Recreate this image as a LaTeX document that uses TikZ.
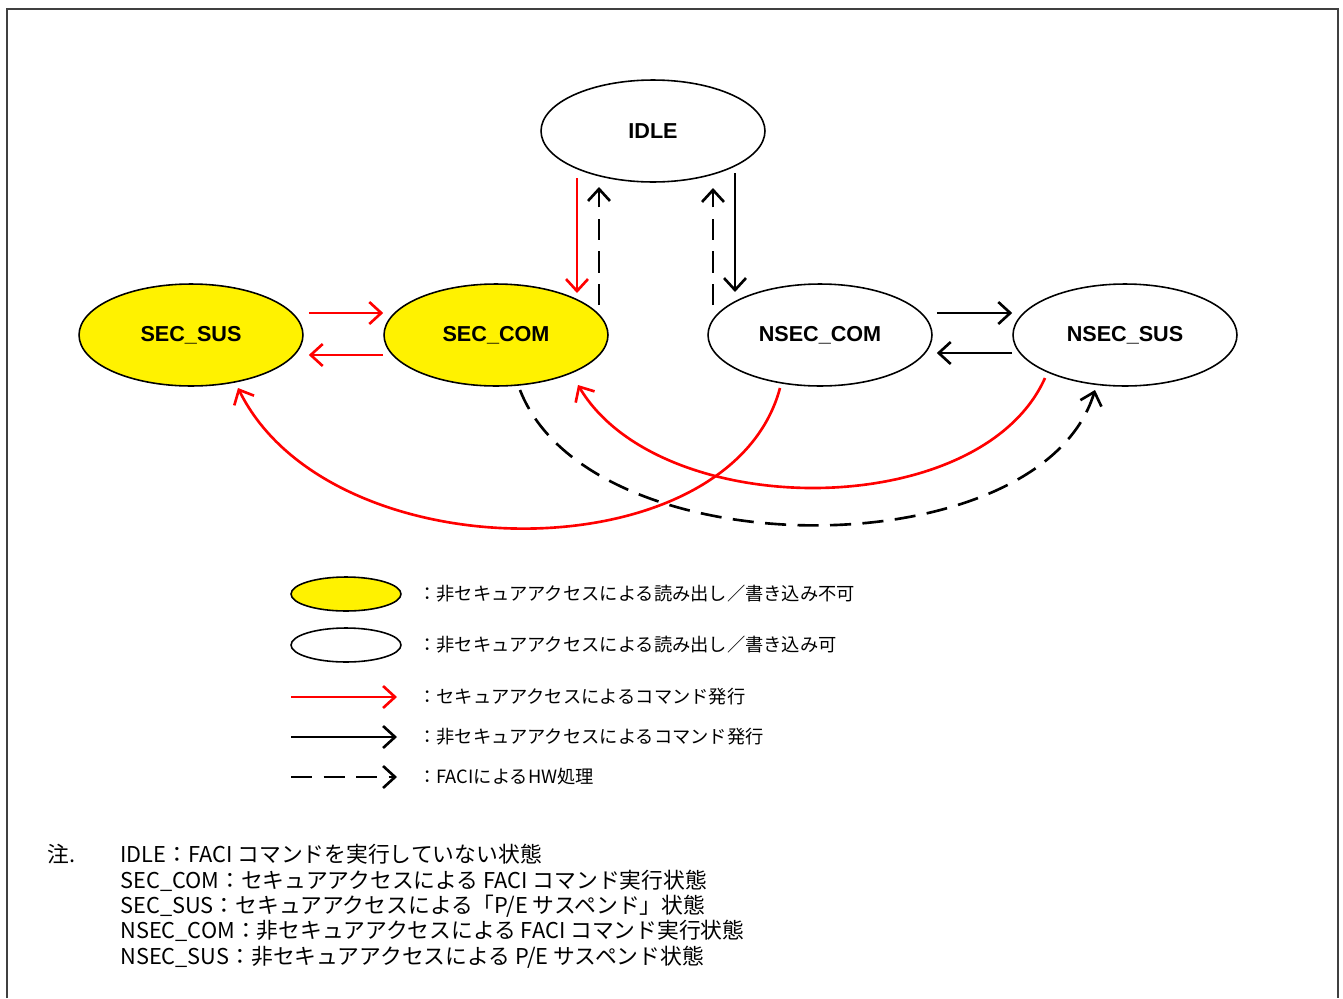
\documentclass[tikz,border=0pt]{standalone}
\usepackage{fontspec}
\setmainfont{Liberation Sans}
\newfontfamily\jpfont{Noto Sans CJK JP}
\usepackage{tikz}
\usetikzlibrary{arrows.meta,shapes.geometric}
\tikzset{
  secstate/.style={draw, ellipse, fill=yellow, line width=0.9pt, minimum width=4.48cm, minimum height=2.04cm, inner sep=0pt, font=\fontsize{12.3pt}{14pt}\selectfont\bfseries},
  nsecstate/.style={secstate, fill=white},
  legstate/.style={draw, ellipse, line width=0.9pt, minimum width=2.2cm, minimum height=0.68cm, inner sep=0pt},
  secmsg/.style={-{Straight Barb[length=2.4mm,width=4.4mm]}, red, line width=1.5pt},
  nsecmsg/.style={-{Straight Barb[length=2.4mm,width=4.4mm]}, black, line width=1.5pt},
  hwproc/.style={nsecmsg, dash pattern=on 12pt off 6.5pt},
  legtext/.style={anchor=west, inner sep=0pt, font=\jpfont\fontsize{10.4pt}{12pt}\selectfont},
  notetext/.style={anchor=north west, inner sep=0pt, align=left, font=\jpfont\fontsize{12.4pt}{14.45pt}\selectfont}
}
\begin{document}
\begin{tikzpicture}[x=0.02cm, y=-0.02cm]
\useasboundingbox (0,0) rectangle (1343,998);
\draw[line width=1.2pt, black!75] (7,998) -- (7,9) -- (1338,9) -- (1338,998);

% states
\node[nsecstate] (idle) at (653,131) {IDLE};
\node[secstate] (secsus) at (191,335) {SEC\_SUS};
\node[secstate] (seccom) at (496,335) {SEC\_COM};
\node[nsecstate] (nseccom) at (820,335) {NSEC\_COM};
\node[nsecstate] (nsecsus) at (1125,335) {NSEC\_SUS};

% transitions
\draw[secmsg] ([shift={(5,-22)}]secsus.east) -- ([shift={(0,-22)}]seccom.west);
\draw[secmsg] ([shift={(0,20)}]seccom.west) -- ([shift={(5,20)}]secsus.east);
\draw[nsecmsg] ([shift={(4,-22)}]nseccom.east) -- ([shift={(0,-22)}]nsecsus.west);
\draw[nsecmsg] ([shift={(0,18)}]nsecsus.west) -- ([shift={(4,18)}]nseccom.east);
\draw[secmsg] ([shift={(-76,47)}]idle.center) -- ([shift={(81,-42)}]seccom.center);
\draw[hwproc] ([shift={(103,-30)}]seccom.center) -- ([shift={(-54,56)}]idle.center);
\draw[hwproc] ([shift={(-107,-30)}]nseccom.center) -- ([shift={(60,57)}]idle.center);
\draw[nsecmsg] ([shift={(82,42)}]idle.center) -- ([shift={(-85,-43)}]nseccom.center);
\draw[secmsg] ([shift={(-40,53)}]nseccom.center) .. controls +(-50,187) and +(92,187) .. ([shift={(47,53)}]secsus.center);
\draw[secmsg] ([shift={(-80,43)}]nsecsus.center) .. controls +(-65,145) and +(82,138) .. ([shift={(82,50)}]seccom.center);
\draw[hwproc] ([shift={(24,55)}]seccom.center) .. controls +(70,180) and +(-55,180) .. ([shift={(-30,55)}]nsecsus.center);

% legend
\node[legstate, fill=yellow] (legsec) at (346,594) {};
\node[legstate, fill=white] (legnsec) at (346,645) {};
\coordinate (legsa) at (291,697);
\coordinate (legsb) at (397,697);
\coordinate (legna) at (291,737);
\coordinate (legnb) at (397,737);
\coordinate (legha) at (291,777);
\coordinate (leghb) at (397,777);
\draw[secmsg] (legsa) -- (legsb);
\draw[nsecmsg] (legna) -- (legnb);
\draw[hwproc] (legha) -- (leghb);
\node[legtext] (legsectext) at (418,594) {：非セキュアアクセスによる読み出し／書き込み不可};
\node[legtext] (legnsectext) at (418,645) {：非セキュアアクセスによる読み出し／書き込み可};
\node[legtext] (legsmsgtext) at (418,697) {：セキュアアクセスによるコマンド発行};
\node[legtext] (legnmsgtext) at (418,737) {：非セキュアアクセスによるコマンド発行};
\node[legtext] (leghwtext) at (418,777) {：FACIによるHW処理};

% notes
\node[notetext] (notemark) at (47,844) {注.};
\node[notetext] (notes) at (120,844) {IDLE：FACI コマンドを実行していない状態\\
SEC\_COM：セキュアアクセスによる FACI コマンド実行状態\\
SEC\_SUS：セキュアアクセスによる「P/E サスペンド」状態\\
NSEC\_COM：非セキュアアクセスによる FACI コマンド実行状態\\
NSEC\_SUS：非セキュアアクセスによる P/E サスペンド状態};
\end{tikzpicture}
\end{document}
